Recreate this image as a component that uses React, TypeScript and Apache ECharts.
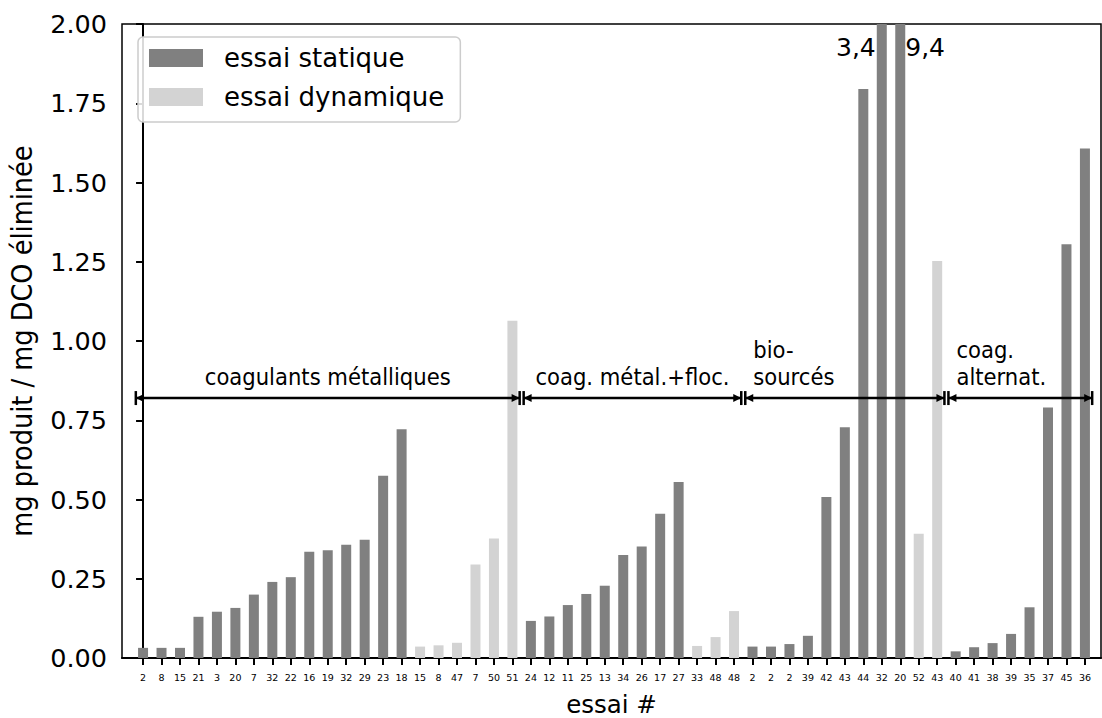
import { useEffect, useRef } from "react";
import * as echarts from "echarts";

// essai # labels (x axis), in plotted order
const essaiLabels: string[] = [
  "2", "8", "15", "21", "3", "20", "7", "32", "22", "16", "19", "32", "29", "23", "18",
  "15", "8", "47", "7", "50", "51",
  "24", "12", "11", "25", "13", "34", "26", "17", "27",
  "33", "48", "48",
  "2", "2", "2", "39", "42", "43", "44", "32", "20",
  "52", "43",
  "40", "41", "38", "39", "35", "37", "45", "36",
];

// essai statique values (null where the essai is dynamic)
const staticValues: (number | null)[] = [
  0.032, 0.032, 0.032, 0.13, 0.146, 0.158, 0.2, 0.24, 0.255, 0.335, 0.34, 0.357, 0.373, 0.575, 0.722,
  null, null, null, null, null, null,
  0.117, 0.131, 0.167, 0.202, 0.228, 0.325, 0.352, 0.455, 0.555,
  null, null, null,
  0.036, 0.036, 0.044, 0.07, 0.508, 0.728, 1.795, 3.4, 9.4,
  null, null,
  0.021, 0.034, 0.047, 0.076, 0.16, 0.79, 1.305, 1.607,
];

// essai dynamique values (null where the essai is static)
const dynamicValues: (number | null)[] = [
  null, null, null, null, null, null, null, null, null, null, null, null, null, null, null,
  0.036, 0.04, 0.048, 0.295, 0.377, 1.064,
  null, null, null, null, null, null, null, null, null,
  0.038, 0.066, 0.148,
  null, null, null, null, null, null, null, null, null,
  0.392, 1.252,
  null, null, null, null, null, null, null, null,
];

// values beyond the axis, written beside the clipped bars
const offScaleLabels: Record<number, string> = { 40: "3,4", 41: "9,4" };

// product families (index ranges on the x axis)
const groupNames: string[] = ["coagulants métalliques", "coag. métal.+floc.", "bio-\nsourcés", "coag.\nalternat."];
const groupStarts: number[] = [-0.5, 20.5, 32.5, 43.5];
const groupEnds: number[] = [20.5, 32.5, 43.5, 51.5];
const bracketLevel = 0.82;

const seriesNames = ["essai statique", "essai dynamique"];

export default function App() {
  const ref = useRef<HTMLDivElement>(null);

  useEffect(() => {
    if (!ref.current) return;
    const chart = echarts.init(ref.current, null, { renderer: "svg" });
    const idxs = essaiLabels.map((_, i) => i);

    const staticData: any[] = [];
    staticValues.forEach((v, i) => {
      if (v == null) return;
      const item: any = { value: [i, v] };
      if (offScaleLabels[i]) {
        const left = i === 40;
        item.label = {
          show: true,
          formatter: offScaleLabels[i],
          position: left ? [-1, 11] : ["100%", 11],
          align: left ? "right" : "left",
          verticalAlign: "top",
          fontSize: 25,
          color: "#000",
          fontFamily: "DejaVu Sans",
        };
      }
      staticData.push(item);
    });
    const dynamicData: any[] = [];
    dynamicValues.forEach((v, i) => {
      if (v == null) return;
      dynamicData.push([i, v]);
    });

    const bracketData = groupNames.map((_, k) => [groupStarts[k], groupEnds[k], bracketLevel]);

    const option: any = {
      animation: false,
      backgroundColor: "#fff",
      textStyle: { fontFamily: "DejaVu Sans" },
      grid: {
        left: 122,
        right: 1,
        top: 24,
        bottom: 60,
        show: true,
        borderColor: "#000",
        borderWidth: 1.5,
        backgroundColor: "transparent",
        outerBoundsMode: "none",
        containLabel: false,
      },
      legend: {
        orient: "vertical",
        left: 138,
        top: 37,
        data: seriesNames,
        selectedMode: false,
        icon: "rect",
        itemWidth: 54,
        itemHeight: 18,
        itemGap: 13,
        padding: [8, 16, 12, 11],
        backgroundColor: "rgba(255,255,255,0.85)",
        borderColor: "#cccccc",
        borderWidth: 1.5,
        borderRadius: 5,
        textStyle: { fontSize: 26, color: "#000", padding: [0, 0, 0, 16], fontFamily: "DejaVu Sans" },
      },
      xAxis: {
        type: "value",
        min: -1.14,
        max: 51.87,
        axisLine: { show: true, onZero: false, lineStyle: { color: "#000", width: 2 } },
        axisTick: { show: true, customValues: idxs, length: 7, lineStyle: { color: "#000", width: 2 } },
        axisLabel: {
          customValues: idxs,
          formatter: (v: number) => essaiLabels[Math.round(v)] ?? "",
          fontSize: 9.5,
          color: "#000",
          margin: 14,
        },
        splitLine: { show: false },
        name: "essai #",
        nameLocation: "middle",
        nameGap: 34,
        nameTextStyle: { fontSize: 24.5, color: "#000" },
      },
      yAxis: {
        type: "value",
        min: 0,
        max: 2,
        interval: 0.25,
        axisLine: { show: true, lineStyle: { color: "#000", width: 2 } },
        axisTick: { show: true, length: 7, lineStyle: { color: "#000", width: 2 } },
        axisLabel: {
          formatter: (v: number) => v.toFixed(2),
          fontSize: 25.5,
          color: "#000",
          margin: 15,
        },
        splitLine: { show: false },
        name: "mg produit / mg DCO éliminée",
        nameLocation: "middle",
        nameGap: 85,
        nameTextStyle: { fontSize: 28.5, color: "#000", fontFamily: "DejaVu Sans Condensed" },
      },
      series: [
        {
          name: seriesNames[0],
          type: "bar",
          data: staticData,
          barWidth: 10,
          barGap: "-100%",
          itemStyle: { color: "#808080" },
          clip: true,
        },
        {
          name: seriesNames[1],
          type: "bar",
          data: dynamicData,
          barWidth: 10,
          barGap: "-100%",
          itemStyle: { color: "#d3d3d3" },
          clip: true,
        },
        {
          type: "custom",
          data: bracketData,
          encode: { x: [0, 1], y: 2 },
          clip: false,
          z: 10,
          silent: true,
          renderItem: (params: any, api: any) => {
            const k = params.dataIndex;
            const a = api.coord([api.value(0), api.value(2)]);
            const b = api.coord([api.value(1), api.value(2)]);
            const y = a[1];
            const xa = a[0] + 2;
            const xb = b[0] - 2;
            const th = 7;
            const ah = 8;
            const aw = 4;
            const st = { stroke: "#000", lineWidth: 2.5 };
            const centered = k < 2;
            return {
              type: "group",
              children: [
                { type: "line", shape: { x1: xa, y1: y, x2: xb, y2: y }, style: st },
                { type: "line", shape: { x1: xa, y1: y - th, x2: xa, y2: y + th }, style: st },
                { type: "line", shape: { x1: xb, y1: y - th, x2: xb, y2: y + th }, style: st },
                {
                  type: "polygon",
                  shape: { points: [[xa, y], [xa + ah, y - aw], [xa + ah, y + aw]] },
                  style: { fill: "#000" },
                },
                {
                  type: "polygon",
                  shape: { points: [[xb, y], [xb - ah, y - aw], [xb - ah, y + aw]] },
                  style: { fill: "#000" },
                },
                {
                  type: "text",
                  x: centered ? (xa + xb) / 2 : xa + 8,
                  y: y - 8,
                  style: {
                    text: groupNames[k],
                    fill: "#000",
                    fontSize: 23.5,
                    lineHeight: 27,
                    fontFamily: "DejaVu Sans Condensed",
                    align: centered ? "center" : "left",
                    verticalAlign: "bottom",
                  },
                },
              ],
            };
          },
        },
      ],
    };

    chart.setOption(option);
    return () => chart.dispose();
  }, []);

  return (
    <div
      ref={ref}
      style={{ position: "absolute", left: 0, top: 0, width: 1102, height: 718, background: "#fff" }}
    />
  );
}
